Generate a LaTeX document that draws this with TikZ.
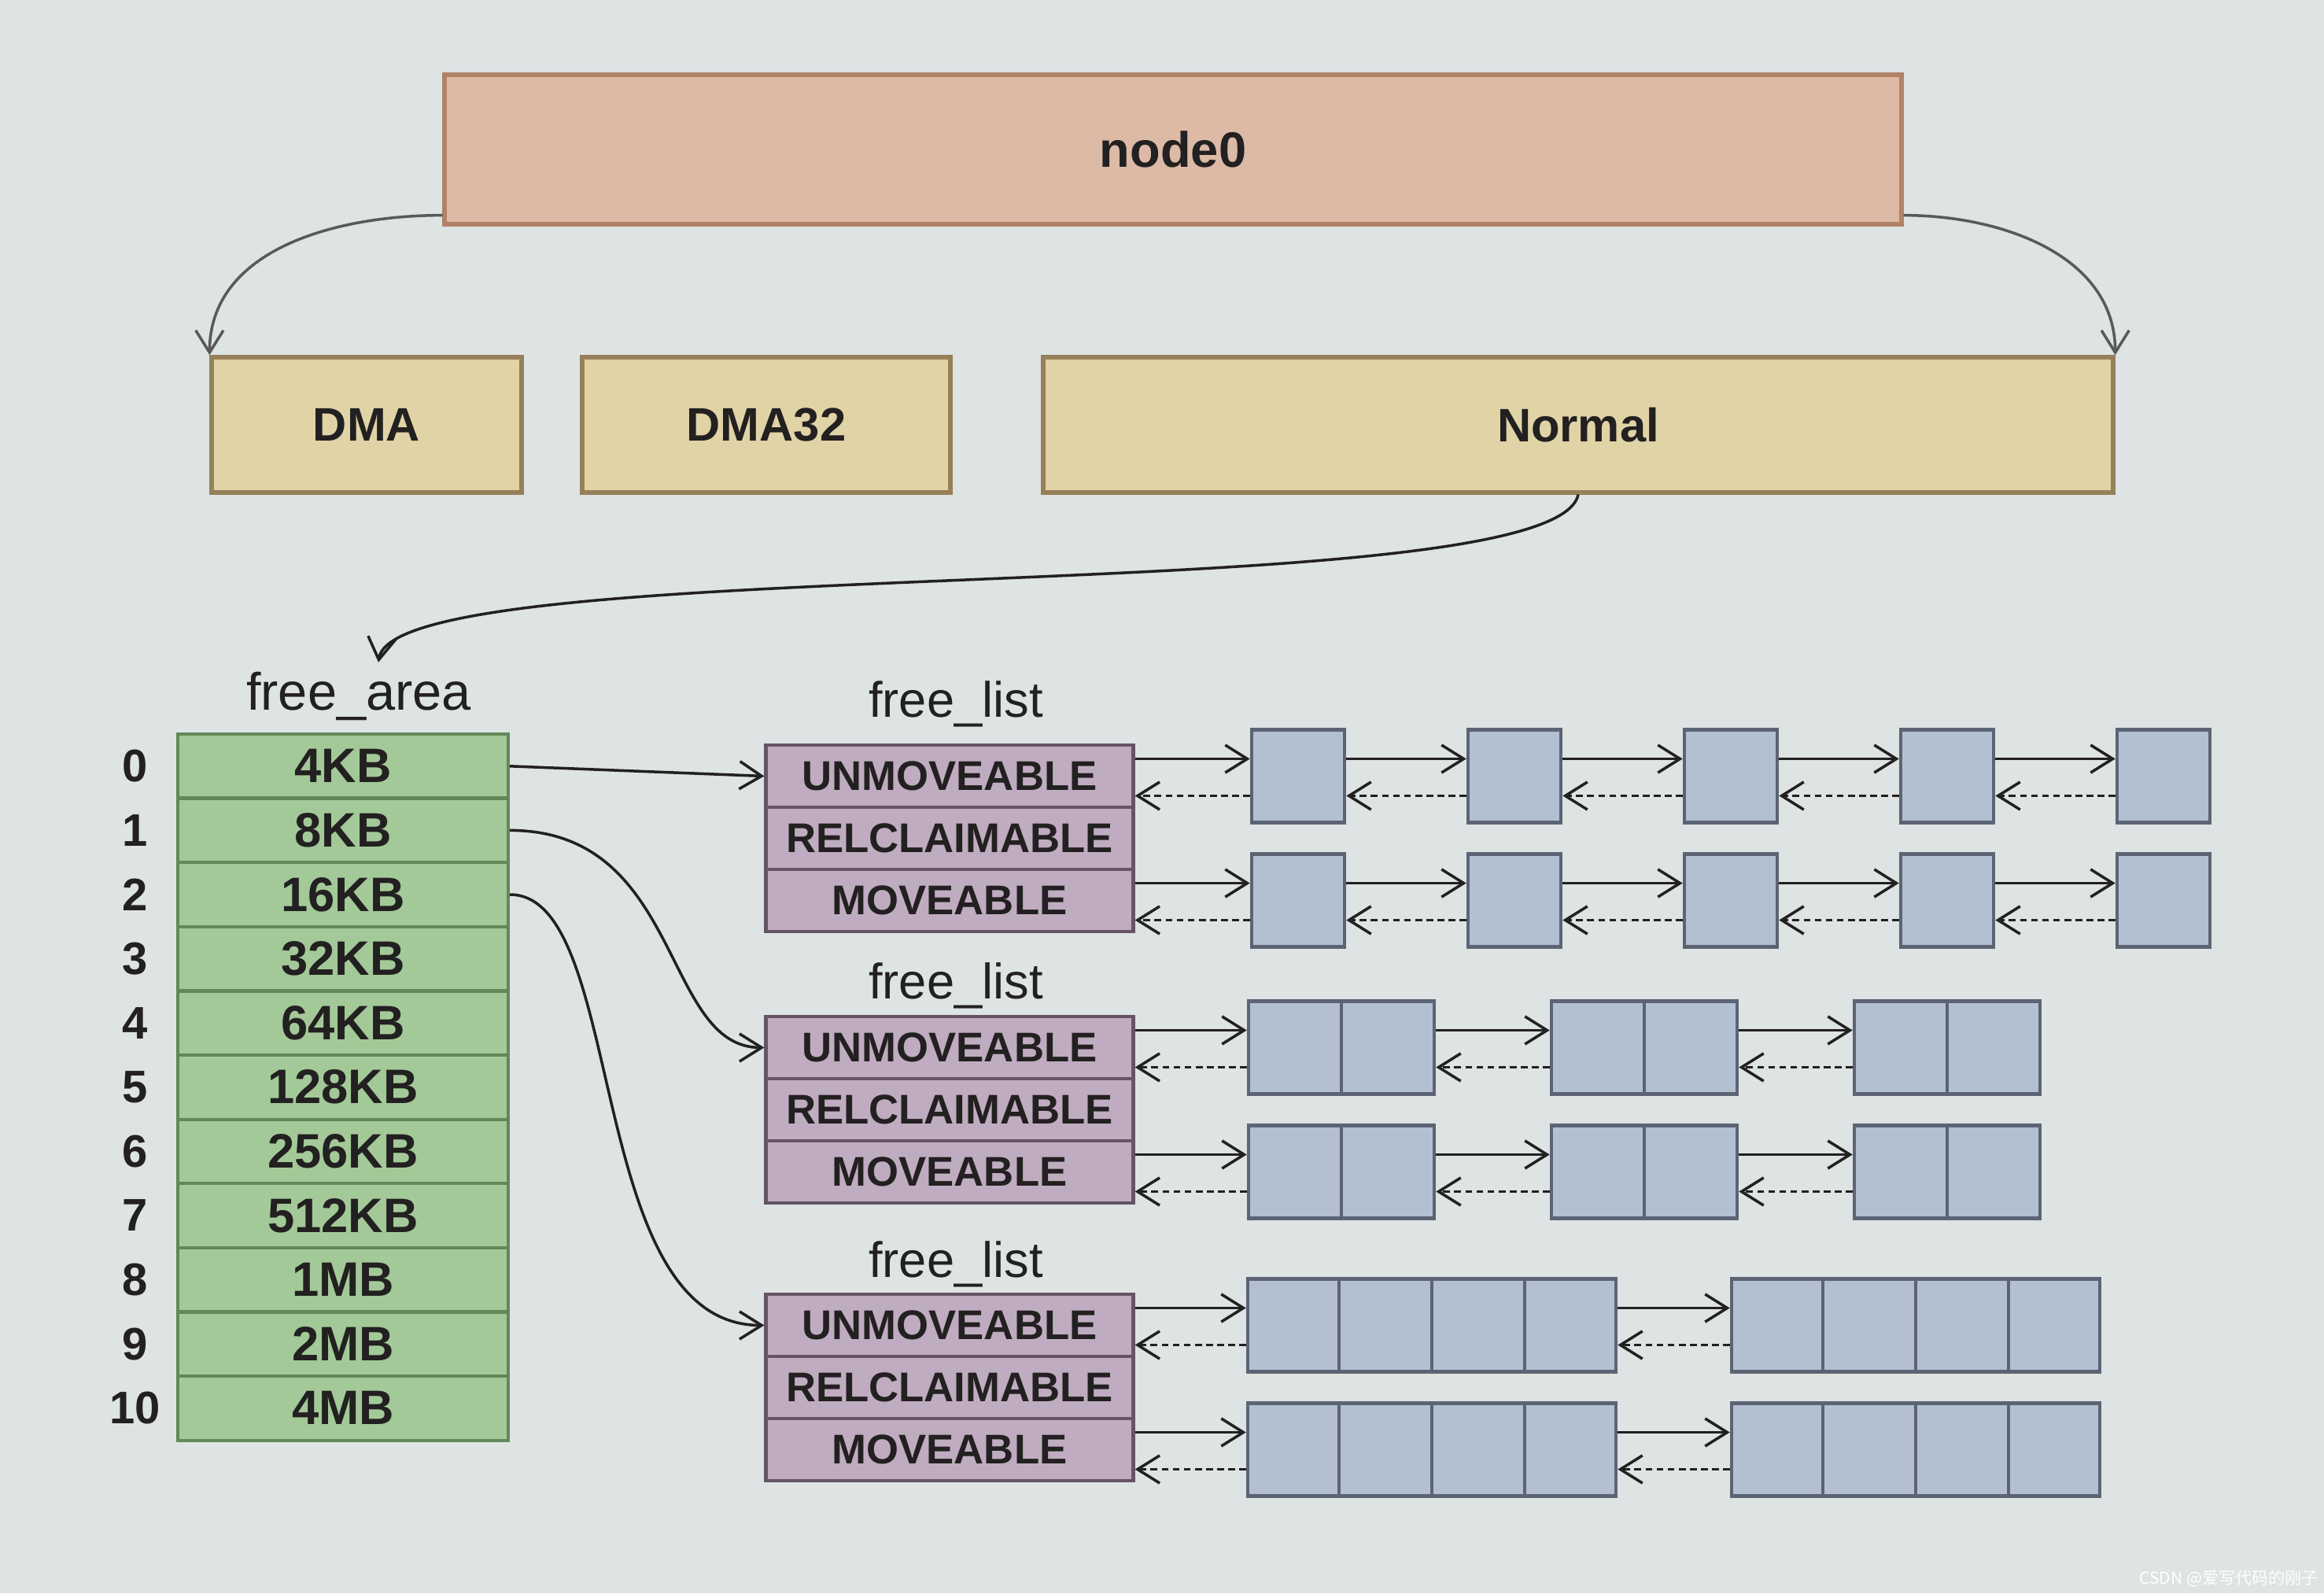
\documentclass[tikz,border=0pt]{standalone}
\usepackage{fontspec}
\setmainfont{Liberation Sans}
\newfontfamily\cjkfont{Noto Sans CJK SC}
\usetikzlibrary{arrows.meta, calc}

\definecolor{paper}{RGB}{222,227,227}
\definecolor{inkText}{RGB}{34,32,32}
\definecolor{nodeFill}{RGB}{220,186,166}
\definecolor{nodeLine}{RGB}{176,130,104}
\definecolor{zoneFill}{RGB}{224,211,166}
\definecolor{zoneLine}{RGB}{150,128,88}
\definecolor{areaFill}{RGB}{163,201,152}
\definecolor{areaLine}{RGB}{98,136,88}
\definecolor{listFill}{RGB}{192,172,192}
\definecolor{listLine}{RGB}{100,84,100}
\definecolor{pageFill}{RGB}{178,192,210}
\definecolor{pageLine}{RGB}{92,100,116}

\tikzset{
	zoneBox/.style={rectangle, draw=zoneLine, fill=zoneFill, line width=1.5pt, minimum height=1.72cm, text=inkText, font=\fontsize{17}{20}\selectfont\bfseries},
	areaCell/.style={rectangle, draw=areaLine, fill=areaFill, line width=1.2pt, minimum width=4.2cm, minimum height=0.816cm, inner sep=0pt, text=inkText, font=\fontsize{17.5}{20}\selectfont\bfseries},
	listCell/.style={rectangle, draw=listLine, fill=listFill, line width=1.2pt, minimum width=4.67cm, minimum height=0.79cm, inner sep=0pt, text=inkText, font=\fontsize{15}{18}\selectfont\bfseries},
	pageBox/.style={rectangle, draw=pageLine, fill=pageFill, line width=1.3pt, minimum height=1.18cm, inner sep=0pt},
	title/.style={text=inkText, font=\fontsize{18}{20}\selectfont},
	linkArrow/.style={-{Straight Barb[length=8pt, width=10pt]}, draw=inkText, line width=1pt},
	backArrow/.style={-{Straight Barb[length=8pt, width=10pt]}, draw=inkText, line width=1pt, dash pattern=on 2.5pt off 1.5pt}
}

\begin{document}
\begin{tikzpicture}
	\fill[paper] (0,0) rectangle (29.54,20.25);
	\useasboundingbox (0,0) rectangle (29.54,20.25);

	% draw node and zone boxes
	\node[rectangle, draw=nodeLine, fill=nodeFill, line width=1.5pt, minimum width=18.52cm, minimum height=1.9cm, text=inkText, font=\fontsize{18}{22}\selectfont\bfseries](node0) at (14.91,18.35){node0};
	\node[zoneBox, minimum width=3.94cm](dma) at (4.66,14.85){DMA};
	\node[zoneBox, minimum width=4.68cm](dma32) at (9.74,14.85){DMA32};
	\node[zoneBox, minimum width=13.6cm](normal) at (20.06,14.85){Normal};

	\draw[linkArrow, draw=gray!70!black] ([yshift=0.14cm]node0.south west) to[out=180, in=90] (dma.north west);
	\draw[linkArrow, draw=gray!70!black] ([yshift=0.14cm]node0.south east) to[out=0, in=90] (normal.north east);

	% draw free_area boxes
	\node[title, font=\fontsize{19}{22}\selectfont](freeArea) at (4.56,11.40){free\_area};
	\draw[linkArrow] (normal.south) .. controls +(-0.3,-1.5) and +(0.2,1.45) .. ([xshift=0.25cm]freeArea.north);

	\foreach \s [count=\i from 0] in {4KB,8KB,16KB,32KB,64KB,128KB,256KB,512KB,1MB,2MB,4MB}{
		\node[areaCell](area\i) at (4.36,{10.512-0.816*\i}){\s};
		\node[title, font=\fontsize{16.5}{20}\selectfont\bfseries](idx\i) at (1.72,{10.512-0.816*\i}){\i};
	}

	% draw free_list boxes
	\node[title](list1Label) at (12.15,11.30){free\_list};
	\node[listCell](list1u) at (12.07,10.385){UNMOVEABLE};
	\node[listCell](list1r) at (12.07,9.595){RELCLAIMABLE};
	\node[listCell](list1m) at (12.07,8.805){MOVEABLE};

	\node[title](list2Label) at (12.15,7.72){free\_list};
	\node[listCell](list2u) at (12.07,6.935){UNMOVEABLE};
	\node[listCell](list2r) at (12.07,6.145){RELCLAIMABLE};
	\node[listCell](list2m) at (12.07,5.355){MOVEABLE};

	\node[title](list3Label) at (12.15,4.18){free\_list};
	\node[listCell](list3u) at (12.07,3.405){UNMOVEABLE};
	\node[listCell](list3r) at (12.07,2.615){RELCLAIMABLE};
	\node[listCell](list3m) at (12.07,1.825){MOVEABLE};

	\draw[linkArrow] (area0.east) -- (list1u.west);
	\draw[linkArrow] (area1.east) .. controls +(2.2,0) and +(-1.3,0) .. (list2u.west);
	\draw[linkArrow] (area2.east) .. controls +(1.5,0) and +(-2.3,0) .. (list3u.west);

	% draw list 1 pages
	\foreach \r/\y in {u/10.385, m/8.805}{
		\foreach \k in {1,...,5}
			\node[pageBox, minimum width=1.18cm](pg1\r\k) at ({16.5+2.75*(\k-1)},\y){};
		\draw[linkArrow] ([yshift=0.22cm]list1\r.east) -- ([yshift=0.22cm]pg1\r1.west);
		\draw[backArrow] ([yshift=-0.25cm]pg1\r1.west) -- ([yshift=-0.25cm]list1\r.east);
		\foreach \k [remember=\k as \j (initially 1)] in {2,...,5}{
			\draw[linkArrow] ([yshift=0.22cm]pg1\r\j.east) -- ([yshift=0.22cm]pg1\r\k.west);
			\draw[backArrow] ([yshift=-0.25cm]pg1\r\k.west) -- ([yshift=-0.25cm]pg1\r\j.east);
		}
	}

	% draw list 2 pages
	\foreach \r/\y in {u/6.935, m/5.355}{
		\foreach \k/\x in {1/17.05, 2/20.9, 3/24.75}{
			\node[pageBox, minimum width=2.36cm](pg2\r\k) at (\x,\y){};
			\draw[pageLine, line width=1pt] (pg2\r\k.north) -- (pg2\r\k.south);
		}
		\draw[linkArrow] ([yshift=0.22cm]list2\r.east) -- ([yshift=0.22cm]pg2\r1.west);
		\draw[backArrow] ([yshift=-0.25cm]pg2\r1.west) -- ([yshift=-0.25cm]list2\r.east);
		\foreach \k [remember=\k as \j (initially 1)] in {2,3}{
			\draw[linkArrow] ([yshift=0.22cm]pg2\r\j.east) -- ([yshift=0.22cm]pg2\r\k.west);
			\draw[backArrow] ([yshift=-0.25cm]pg2\r\k.west) -- ([yshift=-0.25cm]pg2\r\j.east);
		}
	}

	% draw list 3 pages
	\foreach \r/\y in {u/3.405, m/1.825}{
		\foreach \k/\x in {1/18.2, 2/24.35}{
			\node[pageBox, minimum width=4.68cm](pg3\r\k) at (\x,\y){};
			\foreach \c in {0.25,0.5,0.75}
				\draw[pageLine, line width=1pt] ($(pg3\r\k.north west)!\c!(pg3\r\k.north east)$) -- ($(pg3\r\k.south west)!\c!(pg3\r\k.south east)$);
		}
		\draw[linkArrow] ([yshift=0.22cm]list3\r.east) -- ([yshift=0.22cm]pg3\r1.west);
		\draw[backArrow] ([yshift=-0.25cm]pg3\r1.west) -- ([yshift=-0.25cm]list3\r.east);
		\draw[linkArrow] ([yshift=0.22cm]pg3\r1.east) -- ([yshift=0.22cm]pg3\r2.west);
		\draw[backArrow] ([yshift=-0.25cm]pg3\r2.west) -- ([yshift=-0.25cm]pg3\r1.east);
	}

	\node[font=\cjkfont\fontsize{6}{8}\selectfont, text=white](watermark) at (28.33,0.19){CSDN @爱写代码的刚子};
\end{tikzpicture}
\end{document}
